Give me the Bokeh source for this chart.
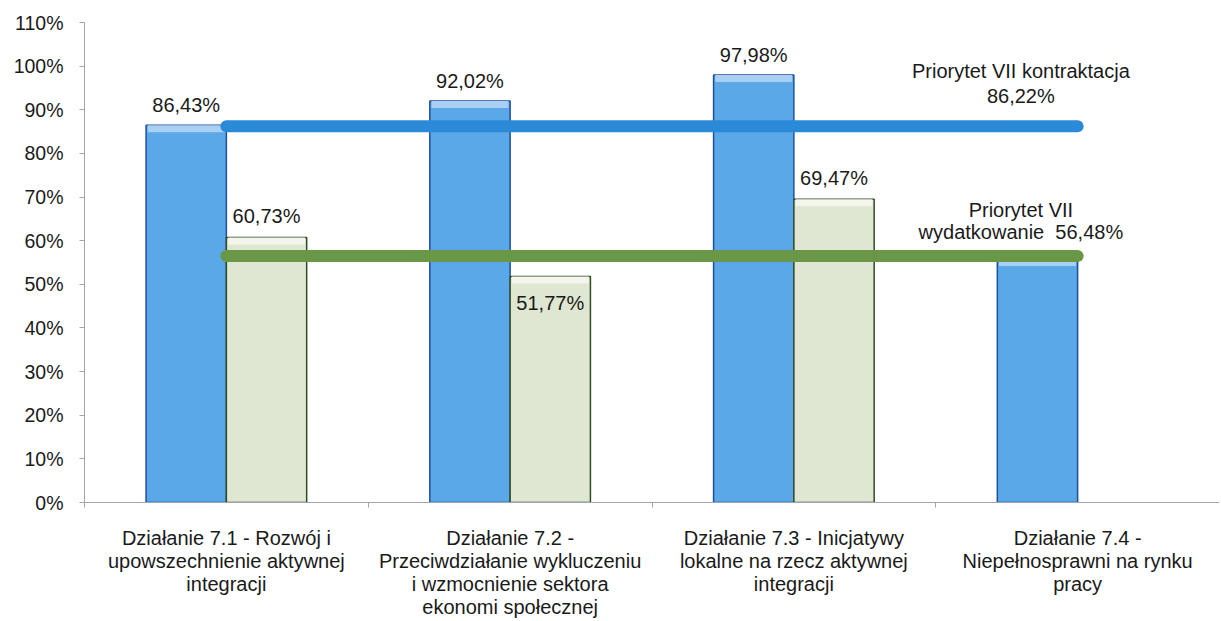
from bokeh.plotting import figure
from bokeh.models import FixedTicker, ColumnDataSource
from bokeh.core.properties import value
from bokeh.embed import file_html
from bokeh.resources import INLINE

categories = [
    "Działanie 7.1 - Rozwój i\nupowszechnienie aktywnej\nintegracji",
    "Działanie 7.2 -\nPrzeciwdziałanie wykluczeniu\ni wzmocnienie sektora\nekonomi społecznej",
    "Działanie 7.3 - Inicjatywy\nlokalne na rzecz aktywnej\nintegracji",
    "Działanie 7.4 -\nNiepełnosprawni na rynku\npracy",
]
kontraktacja = [86.43, 92.02, 97.98, 55.8]
kontraktacja_labels = [True, True, True, False]
wydatkowanie = [60.73, 51.77, 69.47, None]
priorytet_kontraktacja = 86.22
priorytet_wydatkowanie = 56.48
y_ticks = list(range(0, 111, 10))

FONT = "Liberation Sans"
BLUE = "#5ba8e8"
BLUE_EDGE = "#1d4f9c"
GREEN = "#dfe6d1"
GREEN_EDGE = "#2f4d24"
BLUE_LINE = "#2b8ad7"
GREEN_LINE = "#6a9747"
TXT = "#1a1a1a"

def fmt(v):
    return f"{v:.2f}".replace(".", ",") + "%"

p = figure(frame_width=1135, frame_height=480, x_range=(0, 4), y_range=(0, 110),
           output_backend="svg", toolbar_location=None,
           min_border_left=84, min_border_right=0, min_border_top=22, min_border_bottom=112)
p.outline_line_color = None
p.xgrid.visible = False
p.ygrid.visible = False
p.background_fill_color = "white"

bw = 0.283
centers = [i + 0.5 for i in range(len(categories))]

# blue bars
bsrc = ColumnDataSource(dict(x=[c - bw / 2 for c in centers], top=kontraktacja,
                             bev=[t - 1.6 for t in kontraktacja],
                             lab=[fmt(v) if s else "" for v, s in zip(kontraktacja, kontraktacja_labels)]))
p.vbar(x="x", top="top", width=bw, bottom=0, source=bsrc, fill_color=BLUE,
       line_color=BLUE_EDGE, line_width=1.5)
p.vbar(x="x", top="top", width=bw * 0.96, bottom="bev", source=bsrc,
       fill_color="#a9cff2", line_color=None)

# green bars
gx = [c + bw / 2 for c, v in zip(centers, wydatkowanie) if v is not None]
gv = [v for v in wydatkowanie if v is not None]
gsrc = ColumnDataSource(dict(x=gx, top=gv, bev=[t - 1.6 for t in gv], lab=[fmt(v) for v in gv],
                             off=[-10 if v > priorytet_wydatkowanie else 37 for v in gv]))
p.vbar(x="x", top="top", width=bw, bottom=0, source=gsrc, fill_color=GREEN,
       line_color=GREEN_EDGE, line_width=1.5)
p.vbar(x="x", top="top", width=bw * 0.96, bottom="bev", source=gsrc,
       fill_color="#f4f6ee", line_color=None)

# priority lines
p.line([centers[0], centers[-1]], [priorytet_kontraktacja] * 2, line_color=BLUE_LINE,
       line_width=12, line_cap="round")
p.line([centers[0], centers[-1]], [priorytet_wydatkowanie] * 2, line_color=GREEN_LINE,
       line_width=12, line_cap="round")

# bar labels
p.text(x="x", y="top", text="lab", source=bsrc, text_align="center", text_baseline="bottom",
       y_offset=-9, text_font=value(FONT), text_font_size="20px", text_color=TXT)
p.text(x="x", y="top", text="lab", source=gsrc, text_align="center", text_baseline="bottom",
       y_offset="off", text_font=value(FONT), text_font_size="20px", text_color=TXT)

# line labels
lx = 3.30
p.text(x=[lx], y=[priorytet_kontraktacja], text=["Priorytet VII kontraktacja\n" + fmt(priorytet_kontraktacja)],
       text_align="center", text_baseline="bottom", y_offset=-19, text_line_height=1.13,
       text_font=value(FONT), text_font_size="20px", text_color=TXT)
p.text(x=[lx], y=[priorytet_wydatkowanie], text=["Priorytet VII\nwydatkowanie\u00a0\u00a0" + fmt(priorytet_wydatkowanie)],
       text_align="center", text_baseline="bottom", y_offset=-13, text_line_height=1.0,
       text_font=value(FONT), text_font_size="20px", text_color=TXT)

# axes
p.yaxis.ticker = FixedTicker(ticks=y_ticks)
p.yaxis.major_label_overrides = {t: f"{t}%" for t in y_ticks}
p.yaxis.major_tick_out = 5
p.yaxis.major_tick_in = 0
p.yaxis.minor_tick_line_color = None
p.yaxis.axis_line_color = "#a0a4b4"
p.yaxis.major_tick_line_color = "#a0a4b4"
p.yaxis.major_label_text_font = FONT
p.yaxis.major_label_text_font_size = "19.5px"
p.yaxis.major_label_text_color = TXT
p.yaxis.major_label_standoff = 16

p.xaxis.ticker = FixedTicker(ticks=centers, minor_ticks=[0, 1, 2, 3, 4])
p.xaxis.major_label_overrides = {c: lab for c, lab in zip(centers, categories)}
p.xaxis.major_tick_out = 0
p.xaxis.major_tick_in = 0
p.xaxis.minor_tick_out = 5
p.xaxis.minor_tick_in = 0
p.xaxis.minor_tick_line_color = "#a0a4b4"
p.xaxis.axis_line_color = "#a0a4b4"
p.xaxis.major_label_text_font = FONT
p.xaxis.major_label_text_font_size = "20px"
p.xaxis.major_label_text_color = TXT
p.xaxis.major_label_text_line_height = 1.05
p.xaxis.major_label_standoff = 19

open("out.html", "w").write(file_html(p, INLINE))
